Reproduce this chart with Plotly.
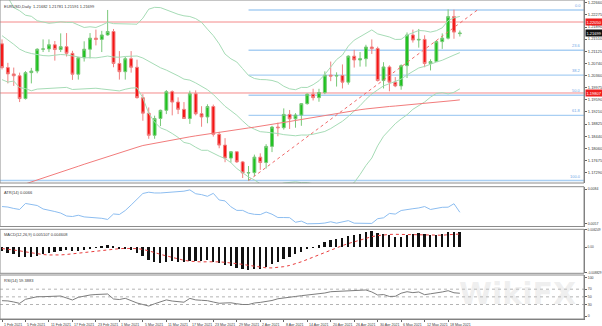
import plotly.graph_objects as go

# ---------------- data ----------------
days = ["1 Feb", "2 Feb", "3 Feb", "4 Feb", "5 Feb", "8 Feb", "9 Feb", "10 Feb", "11 Feb", "12 Feb",
        "15 Feb", "16 Feb", "17 Feb", "18 Feb", "19 Feb", "22 Feb", "23 Feb", "24 Feb", "25 Feb", "26 Feb",
        "1 Mar", "2 Mar", "3 Mar", "4 Mar", "5 Mar", "8 Mar", "9 Mar", "10 Mar", "11 Mar", "12 Mar",
        "15 Mar", "16 Mar", "17 Mar", "18 Mar", "19 Mar", "22 Mar", "23 Mar", "24 Mar", "25 Mar", "26 Mar",
        "29 Mar", "30 Mar", "31 Mar", "1 Apr", "2 Apr", "5 Apr", "6 Apr", "7 Apr", "8 Apr", "9 Apr",
        "12 Apr", "13 Apr", "14 Apr", "15 Apr", "16 Apr", "19 Apr", "20 Apr", "21 Apr", "22 Apr", "23 Apr",
        "26 Apr", "27 Apr", "28 Apr", "29 Apr", "30 Apr", "3 May", "4 May", "5 May", "6 May", "7 May",
        "10 May", "11 May", "12 May", "13 May", "14 May", "17 May", "18 May", "19 May", "20 May"]

opens = [1.2136, 1.2061, 1.2041, 1.2035, 1.1963, 1.2045, 1.2050, 1.2119, 1.2120, 1.2133,
         1.2118, 1.2127, 1.2106, 1.2040, 1.2092, 1.2119, 1.2154, 1.2150, 1.2164, 1.2175,
         1.2074, 1.2048, 1.2089, 1.2062, 1.1966, 1.1917, 1.1847, 1.1900, 1.1926, 1.1985,
         1.1952, 1.1929, 1.1900, 1.1978, 1.1915, 1.1905, 1.1938, 1.1850, 1.1816, 1.1775,
         1.1795, 1.1763, 1.1728, 1.1729, 1.1778, 1.1761, 1.1812, 1.1873, 1.1871, 1.1913,
         1.1899, 1.1911, 1.1947, 1.1977, 1.1966, 1.1982, 1.2037, 1.2034, 1.2036, 1.2015,
         1.2097, 1.2085, 1.2089, 1.2126, 1.2121, 1.2020, 1.2063, 1.2015, 1.2003, 1.2067,
         1.2164, 1.2148, 1.2150, 1.2074, 1.2080, 1.2143, 1.2154, 1.2222, 1.21682]
highs = [1.2150, 1.2076, 1.2061, 1.2045, 1.2050, 1.2060, 1.2122, 1.2150, 1.2150, 1.2145,
         1.2169, 1.2170, 1.2114, 1.2094, 1.2144, 1.2170, 1.2181, 1.2177, 1.2243, 1.2183,
         1.2113, 1.2095, 1.2113, 1.2086, 1.1977, 1.1935, 1.1909, 1.1928, 1.1990, 1.1989,
         1.1967, 1.1952, 1.1988, 1.1989, 1.1939, 1.1945, 1.1944, 1.1858, 1.1838, 1.1797,
         1.1795, 1.1766, 1.1750, 1.1786, 1.1790, 1.1819, 1.1877, 1.1887, 1.1932, 1.1927,
         1.1917, 1.1949, 1.1979, 1.1994, 1.1994, 1.2049, 1.2080, 1.2046, 1.2071, 1.2100,
         1.2117, 1.2110, 1.2133, 1.2150, 1.2127, 1.2078, 1.2068, 1.2031, 1.2071, 1.2172,
         1.2181, 1.2183, 1.2163, 1.2087, 1.2147, 1.2169, 1.2245, 1.2244, 1.21781]
lows = [1.2055, 1.2011, 1.2003, 1.1952, 1.1960, 1.2011, 1.2043, 1.2110, 1.2110, 1.2083,
        1.2110, 1.2096, 1.2022, 1.2023, 1.2080, 1.2090, 1.2131, 1.2110, 1.2162, 1.2062,
        1.2023, 1.2023, 1.2045, 1.1963, 1.1893, 1.1836, 1.1836, 1.1876, 1.1914, 1.1910,
        1.1914, 1.1904, 1.1883, 1.1910, 1.1874, 1.1885, 1.1843, 1.1806, 1.1762, 1.1761,
        1.1760, 1.1712, 1.1704, 1.1718, 1.1738, 1.1742, 1.1794, 1.1844, 1.1865, 1.1867,
        1.1871, 1.1877, 1.1944, 1.1957, 1.1953, 1.1977, 1.2018, 1.2001, 1.1995, 1.2007,
        1.2061, 1.2064, 1.2064, 1.2104, 1.2017, 1.1995, 1.1986, 1.1999, 1.1991, 1.2028,
        1.2140, 1.2124, 1.2062, 1.2052, 1.2079, 1.2120, 1.2150, 1.2152, 1.21591]
closes = [1.2061, 1.2041, 1.2035, 1.1963, 1.2045, 1.2050, 1.2119, 1.2120, 1.2133, 1.2118,
          1.2127, 1.2106, 1.2040, 1.2092, 1.2119, 1.2154, 1.2150, 1.2164, 1.2175, 1.2074,
          1.2048, 1.2089, 1.2062, 1.1966, 1.1917, 1.1847, 1.1900, 1.1926, 1.1985, 1.1952,
          1.1929, 1.1900, 1.1978, 1.1915, 1.1905, 1.1938, 1.1850, 1.1816, 1.1775, 1.1795,
          1.1763, 1.1728, 1.1729, 1.1778, 1.1761, 1.1812, 1.1873, 1.1871, 1.1913, 1.1899,
          1.1911, 1.1947, 1.1977, 1.1966, 1.1982, 1.2037, 1.2034, 1.2036, 1.2015, 1.2097,
          1.2085, 1.2089, 1.2126, 1.2121, 1.2020, 1.2063, 1.2015, 1.2003, 1.2067, 1.2164,
          1.2148, 1.2150, 1.2074, 1.2080, 1.2143, 1.2154, 1.2222, 1.2173, 1.21699]

# Bollinger bands (20, 2)
bb_upper = [1.23009, 1.22831, 1.22505, 1.22407, 1.22264, 1.22230, 1.22090, 1.22040, 1.22009, 1.22028,
            1.22057, 1.22038, 1.22038, 1.21956, 1.21877, 1.21899, 1.21877, 1.21951, 1.22040, 1.21998,
            1.22002, 1.21998, 1.21986, 1.21980, 1.22172, 1.22455, 1.22513, 1.22504, 1.22427, 1.22367,
            1.22293, 1.22245, 1.22223, 1.22157, 1.22040, 1.21823, 1.21620, 1.21360, 1.21036, 1.20887,
            1.20786, 1.20575, 1.20361, 1.20265, 1.20232, 1.20227, 1.20203, 1.20146, 1.20020, 1.19938,
            1.19911, 1.19984, 1.19981, 1.20068, 1.20193, 1.20393, 1.20639, 1.20863, 1.21005, 1.21288,
            1.21476, 1.21581, 1.21694, 1.21800, 1.21674, 1.21622, 1.21577, 1.21499, 1.21503, 1.21638,
            1.21701, 1.21782, 1.21769, 1.21731, 1.21775, 1.21866, 1.22094, 1.22181, 1.22226]
bb_mid = [1.21619, 1.21491, 1.21345, 1.21192, 1.21104, 1.21054, 1.21010, 1.20990, 1.20979, 1.20998,
          1.21023, 1.21011, 1.20978, 1.20942, 1.20916, 1.20923, 1.20917, 1.20943, 1.20974, 1.20943,
          1.20937, 1.20961, 1.20974, 1.20976, 1.20912, 1.20810, 1.20701, 1.20604, 1.20530, 1.20447,
          1.20348, 1.20245, 1.20214, 1.20125, 1.20018, 1.19910, 1.19760, 1.19586, 1.19386, 1.19247,
          1.19104, 1.18924, 1.18757, 1.18663, 1.18585, 1.18568, 1.18554, 1.18527, 1.18491, 1.18464,
          1.18455, 1.18479, 1.18478, 1.18504, 1.18542, 1.18592, 1.18684, 1.18794, 1.18914, 1.19065,
          1.19226, 1.19406, 1.19605, 1.19776, 1.19906, 1.20031, 1.20102, 1.20168, 1.20245, 1.20378,
          1.20496, 1.20598, 1.20646, 1.20703, 1.20784, 1.20842, 1.20936, 1.21005, 1.21082]
bb_lower = [1.20229, 1.20151, 1.20185, 1.19977, 1.19944, 1.19878, 1.19930, 1.19940, 1.19949, 1.19968,
            1.19989, 1.19984, 1.19918, 1.19928, 1.19955, 1.19947, 1.19957, 1.19935, 1.19908, 1.19888,
            1.19872, 1.19924, 1.19962, 1.19972, 1.19652, 1.19165, 1.18889, 1.18704, 1.18633, 1.18527,
            1.18403, 1.18245, 1.18205, 1.18093, 1.17996, 1.17997, 1.17900, 1.17812, 1.17736, 1.17607,
            1.17422, 1.17273, 1.17153, 1.17061, 1.16938, 1.16909, 1.16905, 1.16908, 1.16962, 1.16990,
            1.16999, 1.16974, 1.16975, 1.16940, 1.16891, 1.16791, 1.16729, 1.16725, 1.16823, 1.16842,
            1.16976, 1.17231, 1.17516, 1.17752, 1.18138, 1.18440, 1.18627, 1.18837, 1.18987, 1.19118,
            1.19291, 1.19414, 1.19523, 1.19675, 1.19793, 1.19818, 1.19778, 1.19829, 1.19938]

# 200-day moving average (red)
ma_200 = [1.16688, 1.16748, 1.16808, 1.16868, 1.16928, 1.16990, 1.17053, 1.17115, 1.17178, 1.17240,
          1.17303, 1.17366, 1.17429, 1.17492, 1.17555, 1.17617, 1.17680, 1.17742, 1.17805, 1.17867,
          1.17923, 1.17979, 1.18035, 1.18091, 1.18147, 1.18184, 1.18221, 1.18258, 1.18295, 1.18332,
          1.18362, 1.18392, 1.18422, 1.18452, 1.18482, 1.18510, 1.18539, 1.18567, 1.18596, 1.18624,
          1.18650, 1.18676, 1.18702, 1.18728, 1.18754, 1.18785, 1.18815, 1.18846, 1.18876, 1.18907,
          1.18939, 1.18972, 1.19004, 1.19037, 1.19069, 1.19101, 1.19133, 1.19165, 1.19197, 1.19229,
          1.19254, 1.19278, 1.19303, 1.19327, 1.19352, 1.19366, 1.19381, 1.19395, 1.19410, 1.19424,
          1.19440, 1.19456, 1.19472, 1.19488, 1.19504, 1.19526, 1.19547, 1.19569, 1.19590]

atr = [0.00705, 0.00701, 0.00690, 0.00682, 0.00729, 0.00721, 0.00713, 0.00686, 0.00678, 0.00666,
       0.00654, 0.00631, 0.00627, 0.00637, 0.00624, 0.00621, 0.00617, 0.00613, 0.00604, 0.00647,
       0.00643, 0.00674, 0.00717, 0.00764, 0.00807, 0.00817, 0.00811, 0.00811, 0.00815, 0.00817,
       0.00821, 0.00825, 0.00835, 0.00805, 0.00798, 0.00785, 0.00808, 0.00756, 0.00749, 0.00703,
       0.00675, 0.00675, 0.00653, 0.00644, 0.00642, 0.00662, 0.00645, 0.00619, 0.00619, 0.00618,
       0.00582, 0.00591, 0.00570, 0.00570, 0.00572, 0.00576, 0.00586, 0.00575, 0.00585, 0.00595,
       0.00575, 0.00576, 0.00577, 0.00573, 0.00610, 0.00617, 0.00651, 0.00646, 0.00674, 0.00683,
       0.00688, 0.00694, 0.00705, 0.00682, 0.00690, 0.00699, 0.00700, 0.00727, 0.00660]

macd = [-0.00121, -0.00192, -0.00249, -0.00349, -0.00358, -0.00357, -0.00297, -0.00246, -0.00193, -0.00161,
        -0.00127, -0.00110, -0.00140, -0.00130, -0.00100, -0.00050, -0.00023, 0.00019, 0.00061, 0.00012,
        -0.00047, -0.00060, -0.00091, -0.00190, -0.00305, -0.00448, -0.00512, -0.00536, -0.00502, -0.00495,
        -0.00503, -0.00526, -0.00476, -0.00482, -0.00489, -0.00463, -0.00507, -0.00563, -0.00633, -0.00665,
        -0.00708, -0.00761, -0.00794, -0.00771, -0.00758, -0.00698, -0.00595, -0.00509, -0.00402, -0.00325,
        -0.00251, -0.00162, -0.00066, 0.00001, 0.00066, 0.00160, 0.00230, 0.00283, 0.00305, 0.00384,
        0.00432, 0.00468, 0.00521, 0.00552, 0.00489, 0.00469, 0.00409, 0.00348, 0.00348, 0.00421,
        0.00460, 0.00488, 0.00443, 0.00408, 0.00426, 0.00444, 0.00507, 0.00512, 0.005107]
macd_signal = [-0.00039, -0.00058, -0.00082, -0.00118, -0.00155, -0.00194, -0.00224, -0.00247, -0.00262, -0.00267,
               -0.00260, -0.00244, -0.00221, -0.00196, -0.00167, -0.00140, -0.00115, -0.00091, -0.00067, -0.00051,
               -0.00044, -0.00035, -0.00031, -0.00041, -0.00069, -0.00117, -0.00176, -0.00242, -0.00299, -0.00349,
               -0.00398, -0.00446, -0.00478, -0.00498, -0.00502, -0.00497, -0.00494, -0.00500, -0.00516, -0.00534,
               -0.00554, -0.00586, -0.00620, -0.00652, -0.00684, -0.00706, -0.00709, -0.00695, -0.00666, -0.00624,
               -0.00567, -0.00497, -0.00418, -0.00334, -0.00249, -0.00165, -0.00083, -0.00007, 0.00063, 0.00133,
               0.00199, 0.00259, 0.00317, 0.00371, 0.00407, 0.00434, 0.00448, 0.00452, 0.00448, 0.00447,
               0.00446, 0.00443, 0.00431, 0.00422, 0.00417, 0.00421, 0.00438, 0.00457, 0.004608]

rsi = [40.0, 39.4, 36.6, 33.0, 43.6, 47.8, 50.4, 50.4, 50.6, 51.4,
       52.2, 47.0, 41.8, 48.8, 52.2, 54.8, 56.1, 56.7, 57.4, 44.4,
       43.0, 46.2, 39.2, 34.0, 30.0, 26.0, 32.0, 36.5, 42.0, 39.0,
       38.0, 36.0, 46.0, 42.0, 41.0, 40.0, 36.5, 33.2, 34.0, 34.5,
       32.0, 30.0, 30.0, 34.0, 35.5, 37.6, 40.5, 45.0, 47.5, 49.6,
       51.0, 53.0, 54.8, 55.9, 57.4, 60.0, 63.4, 64.2, 65.3, 66.6,
       67.9, 67.9, 67.9, 62.7, 54.8, 56.0, 51.0, 51.4, 59.5, 63.4,
       61.0, 62.7, 55.6, 58.0, 60.0, 62.7, 66.0, 60.6, 59.3883]

# objects drawn on the price panel
fib_levels = [0.0, 23.6, 38.2, 50.0, 61.8, 100.0]
fib_low = 1.1704
fib_high = 1.2243
trend_x = [42, 81]
trend_y = [1.1704, 1.2243]
hlines = [1.22050, 1.19807]

price_ticks = [1.22660, 1.22275, 1.21890, 1.21510, 1.21125, 1.20740, 1.20360, 1.19975,
               1.19590, 1.19210, 1.18825, 1.18440, 1.18060, 1.17675, 1.17290, 1.16910]

# ---------------- layout helpers ----------------
W, H = 602, 326
M_R, M_B = 18, 7
PH = H - M_B


def dom(top_px, bot_px):
    return [1 - bot_px / PH, 1 - top_px / PH]


D_MAIN = dom(0, 183)
D_ATR = dom(186.7, 226.5)
D_MACD = dom(229.3, 273.3)
D_RSI = dom(275, PH)

xs = list(range(len(days)))
FONT = "Liberation Sans"
TXT = "#3a3a3a"
X_END = 99.15

fig = go.Figure()

for series in (bb_upper, bb_mid, bb_lower):
    fig.add_trace(go.Scatter(x=xs, y=series, mode="lines", xaxis="x", yaxis="y",
                             line=dict(color="#a6dcb6", width=1), hoverinfo="skip"))

fig.add_trace(go.Scatter(x=xs, y=ma_200, mode="lines", xaxis="x", yaxis="y",
                         line=dict(color="#f27c7c", width=1), hoverinfo="skip"))

fig.add_trace(go.Scatter(x=trend_x, y=trend_y, mode="lines", xaxis="x", yaxis="y",
                         line=dict(color="#f06a6a", width=1, dash="dot"), hoverinfo="skip"))

fig.add_trace(go.Candlestick(
    x=xs, open=opens, high=highs, low=lows, close=closes, xaxis="x", yaxis="y",
    increasing=dict(line=dict(color="#78c878", width=1), fillcolor="#1ec31e"),
    decreasing=dict(line=dict(color="#f08080", width=1), fillcolor="#f51414"),
    whiskerwidth=0, hoverinfo="skip"))

fig.add_trace(go.Scatter(x=xs, y=atr, mode="lines", xaxis="x", yaxis="y2",
                         line=dict(color="#8cbdf0", width=1), hoverinfo="skip"))

fig.add_trace(go.Bar(x=xs, y=macd, xaxis="x", yaxis="y3", width=0.3,
                     marker=dict(color="#111111", line=dict(width=0)), hoverinfo="skip"))
fig.add_trace(go.Scatter(x=xs, y=macd_signal, mode="lines", xaxis="x", yaxis="y3",
                         line=dict(color="#e83c3c", width=1, dash="dot"), hoverinfo="skip"))

fig.add_trace(go.Scatter(x=xs, y=rsi, mode="lines", xaxis="x", yaxis="y4",
                         line=dict(color="#7d7d7d", width=1), hoverinfo="skip"))

shapes = []
for lv in fib_levels:
    p = fib_high - (fib_high - fib_low) * lv / 100.0
    x_start = -0.34 if lv == 100.0 else trend_x[0]
    shapes.append(dict(type="line", xref="x", yref="y", x0=x_start, x1=X_END, y0=p, y1=p,
                       line=dict(color="#a9cff3", width=1.4), layer="below"))
for p in hlines:
    shapes.append(dict(type="line", xref="paper", yref="y", x0=0, x1=1, y0=p, y1=p,
                       line=dict(color="#f48a8a", width=1), layer="below"))
for lv in (70, 50, 30):
    shapes.append(dict(type="line", xref="paper", yref="y4", x0=0, x1=1, y0=lv, y1=lv,
                       line=dict(color="#b4b4b4", width=1, dash="dot"), layer="below"))
for d in (D_MAIN, D_ATR, D_MACD, D_RSI):
    shapes.append(dict(type="rect", xref="paper", yref="paper", x0=0, x1=1, y0=d[0], y1=d[1],
                       line=dict(color="#8c8c8c", width=1), fillcolor="rgba(0,0,0,0)", layer="above"))

ann = []
small = dict(family=FONT, size=4, color=TXT)
ann.append(dict(text="EURUSD,Daily  %.5f %.5f %.5f %.5f" % (opens[-1], highs[-1], lows[-1], closes[-1]),
                xref="paper", yref="paper", x=0.004, y=1, xanchor="left", yanchor="top",
                showarrow=False, font=small, yshift=-2))
ann.append(dict(text="ATR(14) %.4f" % atr[-1], xref="paper", yref="paper", x=0.004, y=D_ATR[1],
                xanchor="left", yanchor="top", showarrow=False, font=small, yshift=-1))
ann.append(dict(text="MACD(12,26,9) %.6f %.6f" % (macd[-1], macd_signal[-1]), xref="paper", yref="paper",
                x=0.004, y=D_MACD[1], xanchor="left", yanchor="top", showarrow=False, font=small, yshift=-1))
ann.append(dict(text="RSI(14) %.4f" % rsi[-1], xref="paper", yref="paper", x=0.004, y=D_RSI[1],
                xanchor="left", yanchor="top", showarrow=False, font=small, yshift=-1))

for lv in fib_levels:
    p = fib_high - (fib_high - fib_low) * lv / 100.0
    ann.append(dict(text="%.1f" % lv, xref="paper", yref="y", x=0.998, y=p, xanchor="right",
                    yanchor="bottom", showarrow=False, font=dict(family=FONT, size=4, color="#6fa6e6")))

for p in hlines:
    ann.append(dict(text="%.5f" % p, xref="paper", yref="y", x=1, y=p, xanchor="left", yanchor="middle",
                    showarrow=False, bgcolor="#f01e1e", font=dict(family=FONT, size=4, color="white"),
                    borderpad=0.5, xshift=1))
ann.append(dict(text="%.5f" % closes[-1], xref="paper", yref="y", x=1, y=closes[-1], xanchor="left",
                yanchor="middle", showarrow=False, bgcolor="#111111",
                font=dict(family=FONT, size=4, color="white"), borderpad=0.5, xshift=1))

ann.append(dict(text="<b>WikiFX</b>", xref="paper", yref="paper", x=0.99, y=0.02, xanchor="right",
                yanchor="bottom", showarrow=False,
                font=dict(family="DejaVu Sans", size=30, color="rgba(200,200,200,0.28)")))

# date labels along the bottom, written to the right of each tick
tick_idx = xs[::4]
for i in tick_idx:
    ann.append(dict(text=days[i] + " 2021", xref="x", yref="paper", x=i, y=0, xanchor="left",
                    yanchor="top", showarrow=False, font=dict(family=FONT, size=3.6, color=TXT),
                    yshift=-1.5))

axis_font = dict(family=FONT, size=4, color=TXT)
sub_font = dict(family=FONT, size=3.5, color=TXT)
common_y = dict(side="right", showgrid=False, zeroline=False, ticks="outside", ticklen=2,
                tickcolor="#666", showline=True, linecolor="#777", linewidth=1,
                anchor="x", automargin=False)

fig.update_layout(
    width=W, height=H, margin=dict(l=0, r=M_R, t=0, b=M_B, autoexpand=False),
    paper_bgcolor="white", plot_bgcolor="white", showlegend=False, bargap=0,
    boxgap=0.3,
    shapes=shapes, annotations=ann,
    xaxis=dict(domain=[0, 1], range=[-0.34, X_END], anchor="y4", showgrid=False, zeroline=False,
               tickvals=tick_idx, showticklabels=False, ticks="outside", ticklen=2, tickcolor="#666",
               showline=True, linecolor="#777", rangeslider=dict(visible=False), automargin=False),
    yaxis=dict(domain=D_MAIN, range=[1.16963, 1.22745], tickvals=price_ticks,
               ticktext=["%.5f" % v for v in price_ticks], tickfont=axis_font, **common_y),
    yaxis2=dict(domain=D_ATR, range=[0.00549, 0.00860], tickvals=[0.0084, 0.0057],
                ticktext=["0.0084", "0.0057"], tickfont=sub_font, **common_y),
    yaxis3=dict(domain=D_MACD, range=[-0.00895, 0.00625], tickvals=[0.00620, 0.0, -0.00883],
                ticktext=["0.006249", "0.00", "-0.008829"], tickfont=dict(family=FONT, size=3.1, color=TXT),
                **common_y),
    yaxis4=dict(domain=D_RSI, range=[-7.8, 107], tickvals=[100, 70, 50, 30, 0],
                ticktext=["100", "70", "50", "30", "0"], tickfont=sub_font, **common_y),
)

fig.write_html("out.html")
